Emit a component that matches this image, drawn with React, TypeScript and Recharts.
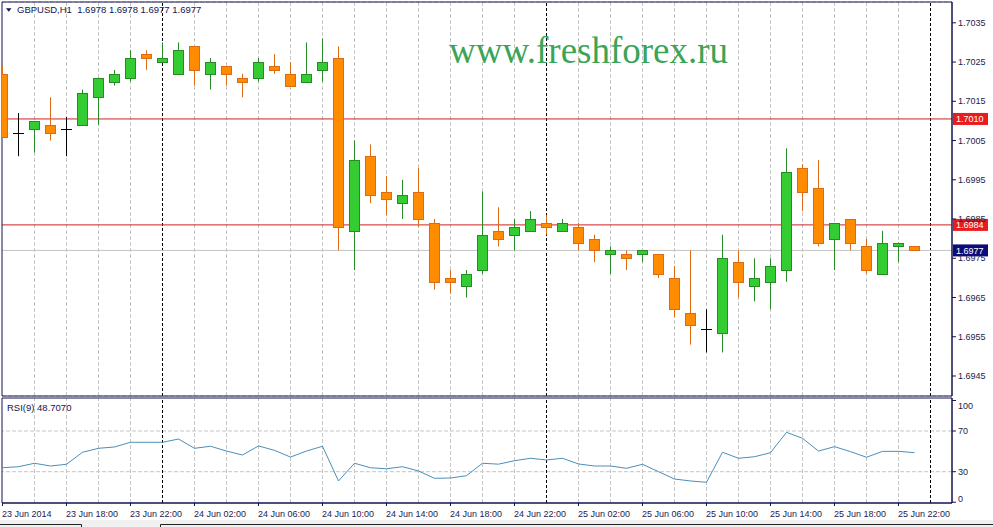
import React from "react";
import { ComposedChart, Bar, Line, XAxis, YAxis, CartesianGrid, ReferenceLine, ReferenceArea } from "recharts";

// GBPUSD H1, 23 Jun 2014 14:00 .. 25 Jun 2014 23:00
const opens = [
  1.7022, 1.7007, 1.7008, 1.7009, 1.7008, 1.7009, 1.7016, 1.7020, 1.7021, 1.7027,
  1.7025, 1.7022, 1.7029, 1.7022, 1.7024, 1.7021, 1.7021, 1.7024, 1.7022, 1.7020,
  1.7023, 1.7026, 1.6982, 1.7001, 1.6992, 1.6989, 1.6992, 1.6984, 1.6970, 1.6968,
  1.6972, 1.6982, 1.6981, 1.6982, 1.6984, 1.6982, 1.6983, 1.6980, 1.6976, 1.6976,
  1.6976, 1.6976, 1.6970, 1.6961, 1.6957, 1.6956, 1.6974, 1.6968, 1.6969, 1.6972,
  1.6998, 1.6993, 1.6980, 1.6985, 1.6978, 1.6971, 1.6978, 1.6978,
];
const highs = [
  1.7024, 1.7012, 1.7010, 1.7016, 1.7011, 1.7018, 1.7021, 1.7023, 1.7028, 1.7028,
  1.7030, 1.7030, 1.7029, 1.7026, 1.7024, 1.7022, 1.7026, 1.7027, 1.7025, 1.7030,
  1.7031, 1.7029, 1.7005, 1.7004, 1.6996, 1.6995, 1.6998, 1.6985, 1.6972, 1.6972,
  1.6992, 1.6988, 1.6985, 1.6987, 1.6986, 1.6985, 1.6984, 1.6981, 1.6978, 1.6977,
  1.6977, 1.6976, 1.6973, 1.6977, 1.6962, 1.6981, 1.6977, 1.6975, 1.6975, 1.7003,
  1.6999, 1.7000, 1.6984, 1.6985, 1.6980, 1.6982, 1.6979, 1.6978,
];
const lows = [
  1.7006, 1.7001, 1.7002, 1.7005, 1.7001, 1.7009, 1.7009, 1.7019, 1.7020, 1.7023,
  1.7025, 1.7022, 1.7019, 1.7018, 1.7019, 1.7016, 1.7020, 1.7022, 1.7019, 1.7020,
  1.7020, 1.6977, 1.6972, 1.6989, 1.6986, 1.6985, 1.6983, 1.6967, 1.6966, 1.6965,
  1.6971, 1.6978, 1.6977, 1.6982, 1.6981, 1.6982, 1.6977, 1.6974, 1.6971, 1.6972,
  1.6974, 1.6970, 1.6960, 1.6953, 1.6951, 1.6951, 1.6965, 1.6964, 1.6962, 1.6969,
  1.6987, 1.6978, 1.6972, 1.6977, 1.6971, 1.6971, 1.6974, 1.6977,
];
const closes = [
  1.7006, 1.7007, 1.7010, 1.7007, 1.7008, 1.7017, 1.7021, 1.7022, 1.7026, 1.7026,
  1.7026, 1.7028, 1.7023, 1.7025, 1.7022, 1.7020, 1.7025, 1.7023, 1.7019, 1.7022,
  1.7025, 1.6983, 1.7000, 1.6991, 1.6990, 1.6991, 1.6985, 1.6969, 1.6969, 1.6971,
  1.6981, 1.6980, 1.6983, 1.6985, 1.6983, 1.6984, 1.6979, 1.6977, 1.6977, 1.6975,
  1.6977, 1.6971, 1.6962, 1.6958, 1.6957, 1.6975, 1.6969, 1.6970, 1.6973, 1.6997,
  1.6992, 1.6979, 1.6984, 1.6979, 1.6972, 1.6979, 1.6979, 1.6977,
];
const rsi9 = [
  33.9, 34.9, 38.3, 35.6, 37.3, 49.1, 53.0, 54.3, 58.9, 58.9,
  58.9, 62.1, 53.0, 55.0, 50.3, 46.4, 55.3, 51.0, 44.4, 50.3,
  55.0, 20.9, 38.3, 33.9, 32.9, 34.9, 30.7, 23.5, 23.8, 26.1,
  38.3, 37.4, 40.8, 43.2, 41.5, 43.2, 37.6, 35.6, 35.6, 33.3,
  37.3, 30.0, 22.8, 20.9, 19.6, 49.1, 43.2, 44.7, 48.7, 68.7,
  62.8, 50.3, 54.6, 49.7, 44.2, 50.0, 50.0, 48.7,
];

const priceTicks = [1.6945, 1.6955, 1.6965, 1.6975, 1.6985, 1.6995, 1.7005, 1.7015, 1.7025, 1.7035];
const rsiTicks = [0, 30, 70, 100];
const rsiLevels = [30, 70];
const timeTicks = [0, 4, 8, 12, 16, 20, 24, 28, 32, 36, 40, 44, 48, 52, 56];
const timeLabels = [
  "23 Jun 2014", "23 Jun 18:00", "23 Jun 22:00", "24 Jun 02:00", "24 Jun 06:00",
  "24 Jun 10:00", "24 Jun 14:00", "24 Jun 18:00", "24 Jun 22:00", "25 Jun 02:00",
  "25 Jun 06:00", "25 Jun 10:00", "25 Jun 14:00", "25 Jun 18:00", "25 Jun 22:00",
];
const gridBars = [2, 4, 6, 8, 12, 14, 16, 18, 20, 22, 24, 26, 28, 30, 32, 36, 38, 40, 42, 44, 46, 48, 50, 52, 54, 56];
const daySeparators = [10, 34, 58];
const hLines = [
  { price: 1.70105, tag: "1.7010" },
  { price: 1.69835, tag: "1.6984" },
];
const bidPrice = 1.6977;

const X_DOMAIN: [number, number] = [-0.03125, 59.34375];
const PRICE_DOMAIN: [number, number] = [1.69399, 1.70403];
const RSI_DOMAIN: [number, number] = [-0.76, 102.43];

const NAVY = "#141450";
const TEXT = "#1c1c4c";
const GRID = "#c6c6c6";
const BULL = "#33cc33";
const BULL_EDGE = "#268a26";
const BEAR = "#ff8c00";
const BEAR_EDGE = "#dd6a14";
const LEVEL = "#d02020";
const FONT = "'Liberation Sans', Arial, sans-serif";

const data = opens.map((o, i) => ({
  i,
  open: o,
  high: highs[i],
  low: lows[i],
  close: closes[i],
  rsi: rsi9[i],
}));

const MAIN_MARGIN = { top: 2, right: 0, bottom: 2, left: 2 };
const RSI_MARGIN = { top: 1, right: 0, bottom: 0, left: 2 };

function Candle(props: any) {
  const { x, y, width, height, payload } = props;
  if (x == null || !payload) return null;
  const { open, close, high, low } = payload;
  const top = height >= 0 ? y : y + height;
  const h = Math.abs(height);
  const py = (p: number) => top + ((high - p) / (high - low || 1)) * h;
  const cx = Math.floor(x + width / 2) + 0.5;
  if (open === close) {
    const yo = Math.round(py(open)) + 0.5;
    return (
      <g>
        <line x1={cx} x2={cx} y1={top} y2={top + h} stroke="#000" />
        <line x1={cx - 5.5} x2={cx + 5.5} y1={yo} y2={yo} stroke="#000" />
      </g>
    );
  }
  const up = close > open;
  const edge = up ? BULL_EDGE : BEAR_EDGE;
  const bTop = Math.round(py(Math.max(open, close))) + 0.5;
  const bBot = Math.round(py(Math.min(open, close))) + 0.5;
  return (
    <g>
      <line x1={cx} x2={cx} y1={top} y2={top + h} stroke={edge} />
      <rect x={cx - 5} y={bTop} width={10} height={Math.max(bBot - bTop, 1)} fill={up ? BULL : BEAR} stroke={edge} />
    </g>
  );
}

function PriceTag(props: any) {
  const { viewBox, text, fill } = props;
  if (!viewBox) return null;
  const x = viewBox.x + viewBox.width + 1;
  const y = viewBox.y;
  return (
    <g>
      <rect x={x} y={y - 6} width={35} height={12} fill={fill} />
      <text x={x + 3} y={y} dy="0.36em" fill="#fff" fontSize={9} fontFamily={FONT}>
        {text}
      </text>
    </g>
  );
}

function TimeTick(props: any) {
  const { x, y, payload } = props;
  const idx = timeTicks.indexOf(payload.value);
  return (
    <text x={x - 0.5} y={y + 8.5} textAnchor="start" fill={TEXT} fontSize={9} fontFamily={FONT}>
      {timeLabels[idx]}
    </text>
  );
}

function RsiTick(props: any) {
  const { x, y, payload } = props;
  const ty = Math.min(Math.max(y, 8.7), 101.3);
  return (
    <text x={x} y={ty} dy="0.36em" textAnchor="start" fill={TEXT} fontSize={9} fontFamily={FONT}>
      {payload.value}
    </text>
  );
}

const xScaleAxis = (height: number) => (
  <XAxis
    type="number"
    dataKey="i"
    domain={X_DOMAIN}
    allowDataOverflow
    ticks={timeTicks}
    height={height}
    tick={false}
    tickLine={false}
    axisLine={false}
  />
);

// back-layer lines, built fresh for each chart
const backLines = () => [
  ...gridBars.map((b) => <ReferenceLine key={"g" + b} x={b} stroke={GRID} strokeDasharray="4 2" />),
  ...daySeparators.map((d) => <ReferenceLine key={"s" + d} x={d} stroke="#000" strokeDasharray="3 2" />),
];

export default function App() {
  return (
    <div style={{ position: "absolute", left: 0, top: 0, width: 993, height: 527, background: "#fff", overflow: "hidden" }}>
      {/* price panel: back layer (grid, separators, level lines) */}
      <div style={{ position: "absolute", left: 0, top: 0 }}>
        <ComposedChart width={993} height={398} data={data} margin={MAIN_MARGIN}>
          <CartesianGrid stroke={GRID} strokeDasharray="4 2" vertical={false} />
          {xScaleAxis(0)}
          <YAxis
            orientation="right"
            width={41}
            domain={PRICE_DOMAIN}
            allowDataOverflow
            ticks={priceTicks}
            interval={0}
            tick={false}
            tickLine={false}
            axisLine={false}
          />
          {backLines()}
          <ReferenceLine y={bidPrice} stroke="#c4c4c4" />
          {hLines.map((l) => (
            <ReferenceLine key={l.tag} y={l.price} stroke={LEVEL} />
          ))}
          <Line dataKey="close" stroke="none" dot={false} isAnimationActive={false} />
        </ComposedChart>
      </div>
      {/* price panel: front layer (axis, tags, candles) */}
      <div style={{ position: "absolute", left: 0, top: 0 }}>
        <ComposedChart width={993} height={398} data={data} margin={MAIN_MARGIN}>
          {xScaleAxis(0)}
          <YAxis
            orientation="right"
            width={41}
            domain={PRICE_DOMAIN}
            allowDataOverflow
            ticks={priceTicks}
            interval={0}
            tickSize={4}
            tickMargin={2}
            tickFormatter={(v: number) => v.toFixed(4)}
            tick={{ fontSize: 9, fill: TEXT, fontFamily: FONT }}
            axisLine={{ stroke: NAVY }}
            tickLine={{ stroke: NAVY }}
          />
          <ReferenceLine y={bidPrice} stroke="none" label={<PriceTag text={bidPrice.toFixed(4)} fill="#0c0c78" />} />
          {hLines.map((l) => (
            <ReferenceLine key={l.tag} y={l.price} stroke="none" label={<PriceTag text={l.tag} fill="#e81c1c" />} />
          ))}
          <ReferenceArea
            x1={X_DOMAIN[0]}
            x2={X_DOMAIN[1]}
            y1={PRICE_DOMAIN[0]}
            y2={PRICE_DOMAIN[1]}
            fill="none"
            stroke={NAVY}
            ifOverflow="visible"
          />
          <Bar dataKey={(d: any) => [d.low, d.high]} barSize={10} shape={(p: any) => <Candle {...p} />} isAnimationActive={false} />
        </ComposedChart>
      </div>
      {/* RSI panel: back layer */}
      <div style={{ position: "absolute", left: 0, top: 397 }}>
        <ComposedChart width={993} height={130} data={data} margin={RSI_MARGIN}>
          {xScaleAxis(24)}
          <YAxis
            orientation="right"
            width={41}
            domain={RSI_DOMAIN}
            allowDataOverflow
            ticks={rsiTicks}
            tick={false}
            tickLine={false}
            axisLine={false}
          />
          {rsiLevels.map((v) => (
            <ReferenceLine key={"l" + v} y={v} stroke={GRID} strokeDasharray="4 2" />
          ))}
          {backLines()}
          <Line dataKey="rsi" stroke="none" dot={false} isAnimationActive={false} />
        </ComposedChart>
      </div>
      {/* RSI panel: front layer */}
      <div style={{ position: "absolute", left: 0, top: 397 }}>
        <ComposedChart width={993} height={130} data={data} margin={RSI_MARGIN}>
          <XAxis
            type="number"
            dataKey="i"
            domain={X_DOMAIN}
            allowDataOverflow
            ticks={timeTicks}
            interval={0}
            height={24}
            tickSize={3}
            tick={<TimeTick />}
            axisLine={{ stroke: NAVY }}
            tickLine={{ stroke: NAVY }}
          />
          <YAxis
            orientation="right"
            width={41}
            domain={RSI_DOMAIN}
            allowDataOverflow
            ticks={rsiTicks}
            interval={0}
            tickSize={4}
            tickMargin={2}
            tick={<RsiTick />}
            axisLine={{ stroke: NAVY }}
            tickLine={{ stroke: NAVY }}
          />
          <ReferenceArea
            x1={X_DOMAIN[0]}
            x2={X_DOMAIN[1]}
            y1={RSI_DOMAIN[0]}
            y2={RSI_DOMAIN[1]}
            fill="none"
            stroke={NAVY}
            ifOverflow="visible"
          />
          <Line dataKey="rsi" stroke="#4a8fba" strokeWidth={1} dot={false} isAnimationActive={false} />
        </ComposedChart>
      </div>
      <svg width={993} height={527} style={{ position: "absolute", left: 0, top: 0, pointerEvents: "none" }}>
        <polygon points="6,8.3 11.5,8.3 8.75,11.8" fill={NAVY} />
        <text x={17} y={12.7} fontSize={9.5} fill={NAVY} fontFamily={FONT} style={{ whiteSpace: "pre" }}>
          GBPUSD,H1  1.6978 1.6978 1.6977 1.6977
        </text>
        <text x={449} y={62.7} fontSize={37} fill="#3aa457" fontFamily="'Liberation Serif', 'Times New Roman', serif">
          www.freshforex.ru
        </text>
        <text x={7} y={410.7} fontSize={9.5} fill={NAVY} fontFamily={FONT}>
          RSI(9) 48.7070
        </text>
        <rect x={0} y={520} width={993} height={7} fill="#f0f0f0" />
        <path d="M0 524.5 H81.5 V527 M160.5 527 V524.5 H993" stroke="#222" fill="none" />
      </svg>
    </div>
  );
}
